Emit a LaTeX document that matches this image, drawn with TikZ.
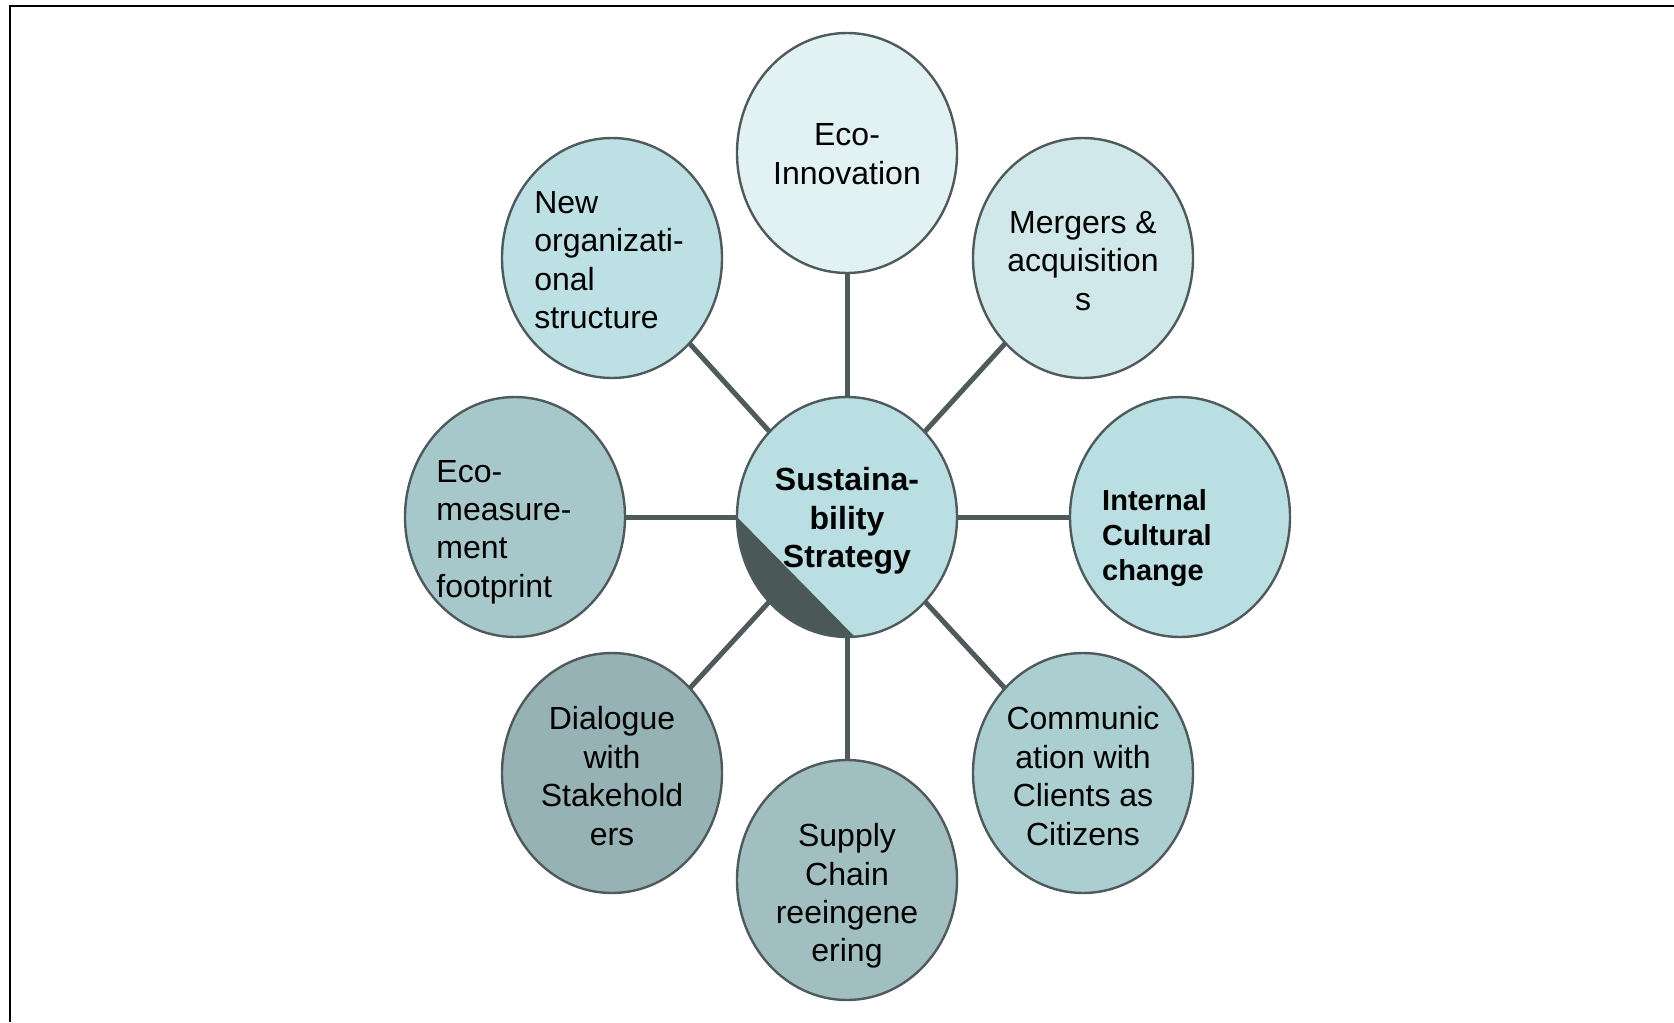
\documentclass[tikz,border=0pt]{standalone}
\usepackage{fontspec}
\setmainfont{Liberation Sans}
\usetikzlibrary{shapes.geometric}
\definecolor{rim}{HTML}{4E5A5B}
\definecolor{segdark}{HTML}{4B5858}
\definecolor{cEI}{HTML}{E2F2F3}
\definecolor{cMA}{HTML}{D0E8EA}
\definecolor{cNO}{HTML}{BCE0E4}
\definecolor{cIC}{HTML}{B9DFE3}
\definecolor{cS}{HTML}{B9DFE3}
\definecolor{cEM}{HTML}{A7C8CB}
\definecolor{cCC}{HTML}{ABCED1}
\definecolor{cSC}{HTML}{A1BFC1}
\definecolor{cDS}{HTML}{96B2B4}
\tikzstyle{bub}=[ellipse,draw=rim,line width=1.2pt,minimum width=110pt,minimum height=120pt,inner sep=0pt,outer sep=0pt]
\tikzstyle{spoke}=[draw=rim,line width=2.5pt]
\tikzstyle{txt}=[font=\fontsize{16}{19.2}\selectfont,align=center,inner sep=0pt]
\tikzstyle{txtl}=[txt,align=left]

\begin{document}
\begin{tikzpicture}[x=0.5pt,y=-0.5pt]
\useasboundingbox (0,0) rectangle (1674,1022);
\draw[line width=1.3pt] (1674,6) -- (10,6) -- (10,1022);
\node[bub,fill=cS,path picture={\fill[segdark] (path picture bounding box.west) -- ([xshift=4pt]path picture bounding box.south) -- (path picture bounding box.south west) -- cycle;}] (S) at (847,517) {};
\node[bub,fill=cEI] (EI) at (847,153) {};
\node[bub,fill=cMA] (MA) at (1083,258) {};
\node[bub,fill=cIC] (IC) at (1180,517) {};
\node[bub,fill=cCC] (CC) at (1083,773) {};
\node[bub,fill=cSC] (SC) at (847,880) {};
\node[bub,fill=cDS] (DS) at (612,773) {};
\node[bub,fill=cEM] (EM) at (515,517) {};
\node[bub,fill=cNO] (NO) at (612,258) {};
\draw[spoke](S)--(EI);\draw[spoke](S)--(MA);
\draw[spoke](S)--(IC);\draw[spoke](S)--(CC);
\draw[spoke](S)--(SC);\draw[spoke](S)--(DS);
\draw[spoke](S)--(EM);\draw[spoke](S)--(NO);
\node[txt,font=\fontsize{16}{19.2}\selectfont\bfseries] (St) at (847,521) {Sustaina-\\bility\\Strategy};
\node[txt] (EIt) at (847,154) {Eco-\\Innovation};
\node[txt] (MAt) at (1083,261) {Mergers \&\\acquisition\\s};
\node[txtl,font=\fontsize{14.5}{17.6}\selectfont\bfseries] (ICt) at (1157,538) {Internal\\Cultural\\change};
\node[txt] (CCt) at (1083,776) {Communic\\ation with\\Clients as\\Citizens};
\node[txt] (SCt) at (847,896) {Supply\\Chain\\reeingene\\ering};
\node[txt] (DSt) at (612,776) {Dialogue\\with\\Stakehold\\ers};
\node[txtl] (EMt) at (504,532) {Eco-\\measure-\\ment\\footprint};
\node[txtl] (NOt) at (609,260) {New\\organizati-\\onal\\structure};
\end{tikzpicture}
\end{document}
